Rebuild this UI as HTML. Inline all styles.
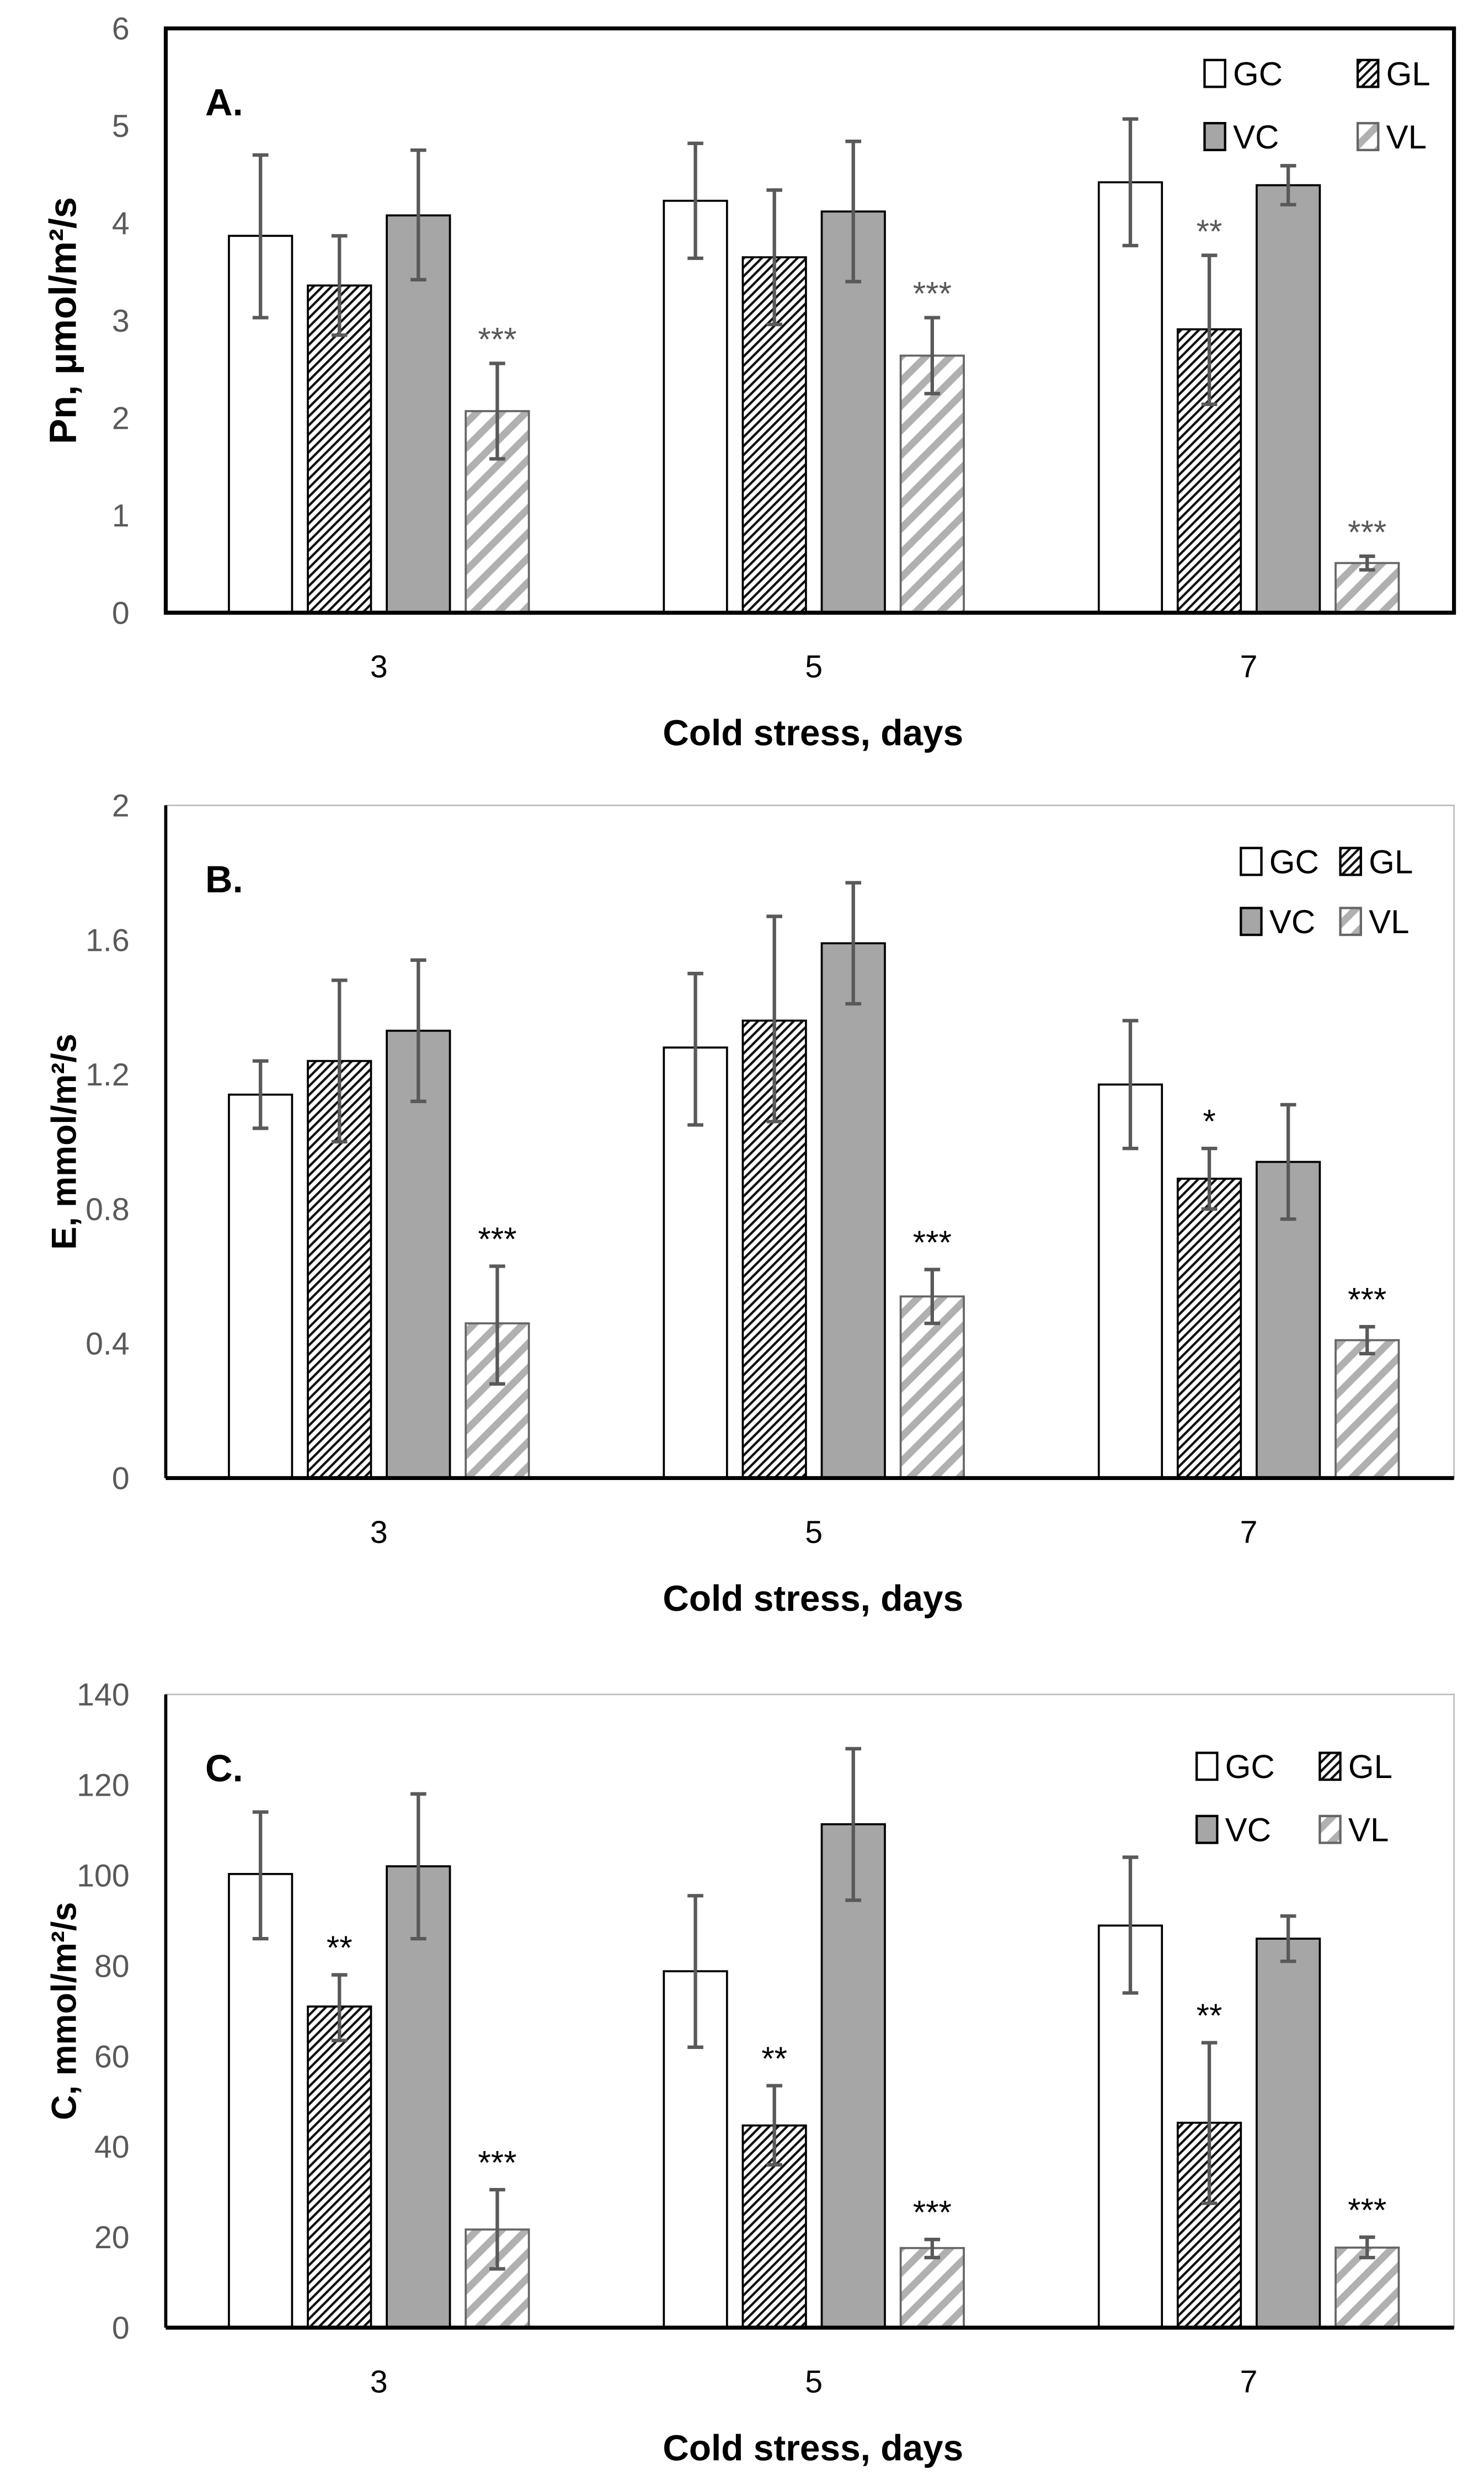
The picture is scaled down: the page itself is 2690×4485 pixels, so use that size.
<!DOCTYPE html>
<html><head><meta charset="utf-8">
<style>
html,body{margin:0;padding:0;background:#fff;}
svg{display:block;}
text{font-family:"Liberation Sans",sans-serif;}
</style></head>
<body>
<svg id="chart" width="2690" height="4485" viewBox="0 0 940 1567.3" preserveAspectRatio="none" xmlns="http://www.w3.org/2000/svg">
<defs>
<pattern id="pGL" patternUnits="userSpaceOnUse" width="4" height="4" patternTransform="rotate(45)">
<rect width="4" height="4" fill="#fff"/><rect width="1.5" height="4" fill="#111"/>
</pattern>
<pattern id="pVL" patternUnits="userSpaceOnUse" width="11" height="11" patternTransform="rotate(45)">
<rect width="11" height="11" fill="#fff"/><rect width="4.5" height="11" fill="#b0b0b0"/>
</pattern>
</defs>
<g id="root"></g>
</svg>
<script>
const categories = ["3","5","7"];
const series = ["GC","GL","VC","VL"];
// Panel A: Pn
const aVals = [[3.87,3.36,4.08,2.07],[4.23,3.65,4.12,2.64],[4.42,2.91,4.39,0.51]];
const aLo = [[3.03,2.85,3.42,1.58],[3.64,2.96,3.40,2.25],[3.77,2.14,4.19,0.44]];
const aHi = [[4.70,3.87,4.75,2.56],[4.82,4.34,4.84,3.03],[5.07,3.67,4.59,0.58]];
const aSig = [["","","","***"],["","","","***"],["","**","","***"]];
const aTicks = ["0","1","2","3","4","5","6"];
// Panel B: E
const bVals = [[1.14,1.24,1.33,0.46],[1.28,1.36,1.59,0.54],[1.17,0.89,0.94,0.41]];
const bLo = [[1.04,1.00,1.12,0.28],[1.05,1.06,1.41,0.46],[0.98,0.80,0.77,0.37]];
const bHi = [[1.24,1.48,1.54,0.63],[1.50,1.67,1.77,0.62],[1.36,0.98,1.11,0.45]];
const bSig = [["","","","***"],["","","","***"],["","*","","***"]];
const bTicks = ["0","0.4","0.8","1.2","1.6","2"];
// Panel C: C
const cVals = [[100.3,71,102,21.7],[78.8,44.7,111.3,17.6],[88.9,45.3,86,17.7]];
const cLo = [[86,63.5,86,13],[62,36,94.5,15.5],[74,27.5,81,15.5]];
const cHi = [[114,78,118,30.5],[95.5,53.5,128,19.5],[104,63,91,20]];
const cSig = [["","**","","***"],["","**","","***"],["","**","","***"]];
const cTicks = ["0","20","40","60","80","100","120","140"];

const NS="http://www.w3.org/2000/svg";
const root=document.getElementById('root');
function mk(tag,attrs,parent,txt){const e=document.createElementNS(NS,tag);for(const k in attrs)e.setAttribute(k,attrs[k]);if(txt!==undefined)e.textContent=txt;(parent||root).appendChild(e);return e;}
const fills=["#fff","url(#pGL)","#a6a6a6","url(#pVL)"];
const strokes=["#000","#000","#000","#666"];

function panel(cfg){
  const g=mk('g',{});
  
  
  const L=105,R=921,T=cfg.top,B=cfg.bottom;
  const y=v=>B-(v/cfg.max)*(B-T);
  const xc=i=>240+i*275.5;
  const bx=(i,j)=>xc(i)-95+j*50;
  const fr=mk('rect',{x:L,y:T,width:R-L,height:B-T,fill:'none',stroke:cfg.frameColor,'stroke-width':cfg.frameW},g);
  
  
  const ya=mk('line',{x1:L,y1:T,x2:L,y2:B,stroke:'#000','stroke-width':2},g);
  
  
  cfg.ticks.forEach((t,k)=>{
    const v=parseFloat(t);
    const tx=mk('text',{x:82,y:y(v)+7,'text-anchor':'end','font-size':20,fill:'#595959'},g,t);
    
    
  });
  cfg.vals.forEach((row,i)=>{
    row.forEach((v,j)=>{
      const r=mk('rect',{x:bx(i,j),y:y(v),width:40,height:B-y(v),fill:fills[j],stroke:strokes[j],'stroke-width':1.3},g);
      
      
      const cx=bx(i,j)+20, yl=y(cfg.lo[i][j]), yh=y(cfg.hi[i][j]);
      const eb=mk('path',{d:`M${cx},${yl}V${yh}M${cx-5},${yl}H${cx+5}M${cx-5},${yh}H${cx+5}`,stroke:'#595959','stroke-width':2.2,fill:'none'},g);
      
      
      const s=cfg.sig[i][j];
      if(s){
        const st=mk('text',{x:cx,y:yh-cfg.sigGap,'text-anchor':'middle','font-size':21,fill:cfg.sigColor},g,s);
        
        
      }
    });
  });
  const xa=mk('line',{x1:L,y1:B,x2:R,y2:B,stroke:'#000','stroke-width':2.5},g);
  
  
  categories.forEach((c,i)=>{
    const t=mk('text',{x:xc(i),y:B+41,'text-anchor':'middle','font-size':20,fill:'#000'},g,c);
    
    
  });
  const xt=mk('text',{x:515,y:B+84,'text-anchor':'middle','font-size':23,'font-weight':'bold',fill:'#000'},g,'Cold stress, days');
  
  
  const ymid=(T+B)/2;
  const yt=mk('text',{x:48,y:ymid,'text-anchor':'middle','font-size':cfg.yfs,'font-weight':'bold',fill:'#000',transform:`rotate(-90 48 ${ymid})`},g,cfg.ytitle);
  
  
  const pl=mk('text',{x:130,y:T+55,'font-size':24,'font-weight':'bold',fill:'#000'},g,cfg.label);
  
  
  series.forEach((s,j)=>{
    const lx=cfg.lx[j%2], ly=cfg.ly[Math.floor(j/2)];
    const lr=mk('rect',{x:lx,y:ly-8,width:13,height:17,fill:fills[j],stroke:strokes[j],'stroke-width':1.5},g);
    
    
    const lt=mk('text',{x:lx+18,y:ly+8,'font-size':21,fill:'#000'},g,s);
    
    
  });
}
panel({id:'pn',top:18,bottom:388,max:6,ticks:aTicks,vals:aVals,lo:aLo,hi:aHi,sig:aSig,ytitle:'Pn, µmol/m²/s',yfs:24,label:'A.',frameColor:'#000',frameW:2.5,sigColor:'#595959',sigGap:8,lx:[763,860],ly:[46,86]});
panel({id:'e',top:510,bottom:936,max:2,ticks:bTicks,vals:bVals,lo:bLo,hi:bHi,sig:bSig,ytitle:'E, mmol/m²/s',yfs:22,label:'B.',frameColor:'#bfbfbf',frameW:1,sigColor:'#000',sigGap:10,lx:[786,849],ly:[545,583]});
panel({id:'c',top:1073,bottom:1474,max:140,ticks:cTicks,vals:cVals,lo:cLo,hi:cHi,sig:cSig,ytitle:'C, mmol/m²/s',yfs:22,label:'C.',frameColor:'#bfbfbf',frameW:1,sigColor:'#000',sigGap:10,lx:[758,836],ly:[1118,1158]});
</script>
</body></html>
